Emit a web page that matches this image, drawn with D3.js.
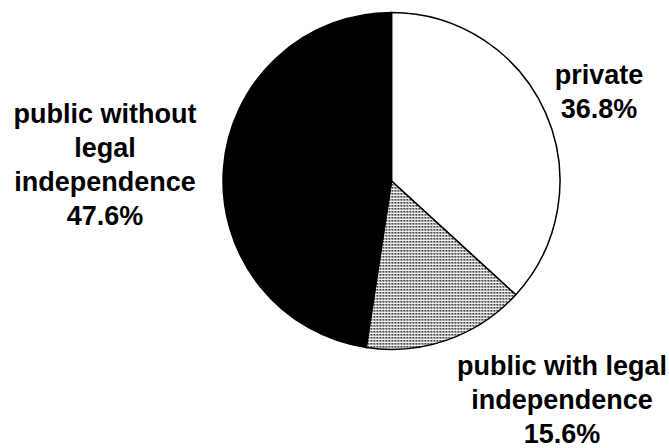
<!DOCTYPE html>
<html><head><meta charset="utf-8">
<script src="https://cdn.jsdelivr.net/npm/d3@7/dist/d3.min.js"></script>
<style>html,body{margin:0;padding:0;background:#fff;}</style>
</head><body>
<svg id="chart" width="669" height="448"></svg>
<script>
const categories = ["private", "public with legal independence", "public without legal independence"];
const values = [36.8, 15.6, 47.6];
const labelLines = [
  ["private", "36.8%"],
  ["public with legal", "independence", "15.6%"],
  ["public without", "legal", "independence", "47.6%"]
];
const fills = ["#ffffff", "url(#dots)", "#000000"];
const labelPos = [[599, 84], [562, 375], [105, 123]];

const svg = d3.select("#chart");
const defs = svg.append("defs");
const pat = defs.append("pattern").attr("id", "dots").attr("patternUnits", "userSpaceOnUse")
  .attr("width", 3).attr("height", 3);
pat.append("rect").attr("width", 3).attr("height", 3).attr("fill", "#f0f0f0");
pat.append("rect").attr("width", 2).attr("height", 2).attr("fill", "#808080");
pat.append("rect").attr("width", 1).attr("height", 1).attr("fill", "#111");

const cx = 391.5, cy = 181, r = 168.5;
const pie = d3.pie().sort(null).value(d => d);
const arc = d3.arc().innerRadius(0).outerRadius(r);
const g = svg.append("g").attr("transform", `translate(${cx},${cy})`);
g.selectAll("path").data(pie(values)).enter().append("path")
  .attr("d", arc).attr("fill", (d, i) => fills[i])
  .attr("stroke", "#000").attr("stroke-width", 1.5);

const lh = 34;
labelLines.forEach((lines, i) => {
  const t = svg.append("text").attr("text-anchor", "middle")
    .attr("font-family", "Liberation Sans, Arial, sans-serif")
    .attr("font-weight", "bold").attr("font-size", 27).attr("fill", "#000");
  lines.forEach((s, j) => {
    t.append("tspan").attr("x", labelPos[i][0]).attr("y", labelPos[i][1] + j * lh).text(s);
  });
});
</script>
</body></html>
